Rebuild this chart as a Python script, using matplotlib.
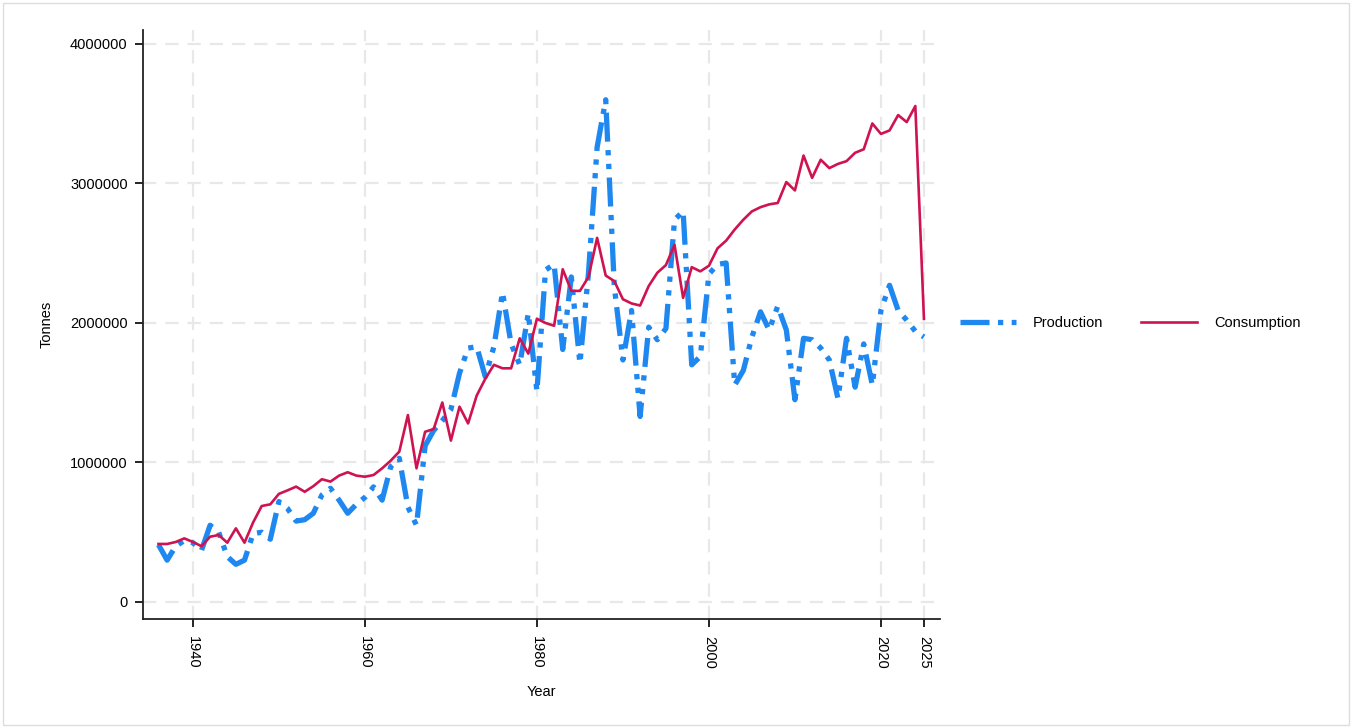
import matplotlib
matplotlib.use("Agg")
import matplotlib.pyplot as plt
import matplotlib.ticker as mticker
from matplotlib.patches import Rectangle

plt.rcParams['font.family'] = ['Liberation Sans', 'DejaVu Sans']

years = list(range(1936, 2026))

production = [
    410000, 300000, 400000, 440000, 425000, 370000, 550000, 500000, 325000, 270000,
    300000, 490000, 500000, 450000, 720000, 670000, 580000, 590000, 636000, 767000,
    815000, 730000, 636000, 700000, 750000, 825000, 730000, 970000, 1030000, 680000,
    550000, 1120000, 1230000, 1300000, 1380000, 1640000, 1820000, 1830000, 1615000, 1830000,
    2220000, 1850000, 1700000, 2070000, 1510000, 2380000, 2420000, 1810000, 2330000, 1710000,
    2360000, 3260000, 3600000, 2260000, 1735000, 2090000, 1330000, 1970000, 1880000, 1960000,
    2740000, 2800000, 1700000, 1760000, 2350000, 2420000, 2430000, 1555000, 1660000, 1900000,
    2080000, 1950000, 2120000, 1950000, 1450000, 1890000, 1880000, 1820000, 1735000, 1460000,
    1890000, 1540000, 1850000, 1555000, 2090000, 2270000, 2090000, 2020000, 1940000, 1900000,
]

consumption = [
    416000, 416000, 430000, 456000, 430000, 400000, 468000, 480000, 425000, 528000,
    425000, 570000, 688000, 700000, 775000, 800000, 827000, 790000, 830000, 880000,
    863000, 906000, 930000, 906000, 898000, 910000, 958000, 1013000, 1078000, 1340000,
    958000, 1220000, 1240000, 1430000, 1157000, 1400000, 1280000, 1480000, 1600000, 1700000,
    1675000, 1675000, 1890000, 1780000, 2030000, 2000000, 1980000, 2385000, 2230000, 2230000,
    2330000, 2610000, 2340000, 2300000, 2170000, 2140000, 2125000, 2265000, 2360000, 2415000,
    2560000, 2180000, 2400000, 2370000, 2410000, 2535000, 2590000, 2670000, 2740000, 2800000,
    2830000, 2850000, 2860000, 3010000, 2950000, 3200000, 3040000, 3170000, 3110000, 3140000,
    3160000, 3220000, 3245000, 3430000, 3355000, 3380000, 3490000, 3440000, 3555000, 2030000,
]

x_ticks = [1940, 1960, 1980, 2000, 2020, 2025]
y_ticks = [0, 1000000, 2000000, 3000000, 4000000]

blue = '#1E88F0'
red = '#CF1350'
grid_c = '#E8E8E8'

fig = plt.figure(figsize=(13.53, 7.28), dpi=100)
ax = fig.add_axes([0.1057, 0.1497, 0.5890, 0.8091])

for yv in y_ticks:
    ax.axhline(yv, color=grid_c, lw=1.6, ls=(0, (6, 4)), zorder=0)
for xv in x_ticks:
    ax.axvline(xv, color=grid_c, lw=1.6, ls=(0, (6, 4)), zorder=0)

ax.plot(years, production, color=blue, lw=3.8,
        ls=(0, (5.5, 1.6, 1, 1.6, 1, 1.6)), dash_capstyle='butt',
        label='Production', zorder=2)
ax.plot(years, consumption, color=red, lw=1.9, label='Consumption', zorder=3)

ax.set_xlim(1934.2, 2026.86)
ax.set_ylim(-122000, 4100000)

ax.set_xticks(x_ticks)
ax.set_xticklabels([str(v) for v in x_ticks], rotation=270, fontsize=10.5)
ax.set_yticks(y_ticks)
ax.yaxis.set_major_formatter(mticker.FuncFormatter(lambda v, p: f"{int(v)}"))
ax.tick_params(axis='y', labelsize=10.5, length=6, width=1.2, direction='out', pad=5)
ax.tick_params(axis='x', length=6, width=1.2, direction='out', pad=6)

for side in ('top', 'right'):
    ax.spines[side].set_visible(False)
for side in ('left', 'bottom'):
    ax.spines[side].set_linewidth(1.3)
    ax.spines[side].set_color('#222222')

ax.set_xlabel('Year', fontsize=10.5, labelpad=12)
ax.set_ylabel('Tonnes', fontsize=10.5, labelpad=12)

fig.legend(handles=ax.get_lines()[-2:], loc='center left',
           bbox_to_anchor=(0.700, 0.556), bbox_transform=fig.transFigure,
           ncol=2, frameon=False, fontsize=10.5, handlelength=3.8,
           handletextpad=1.2, columnspacing=2.6)

fig.patches.append(Rectangle((3 / 1353, 3 / 728), 1346 / 1353, 722 / 728,
                             transform=fig.transFigure, fill=False,
                             edgecolor='#DDDDDD', lw=1.0))

fig.savefig('out.png', dpi=100, facecolor='white')
